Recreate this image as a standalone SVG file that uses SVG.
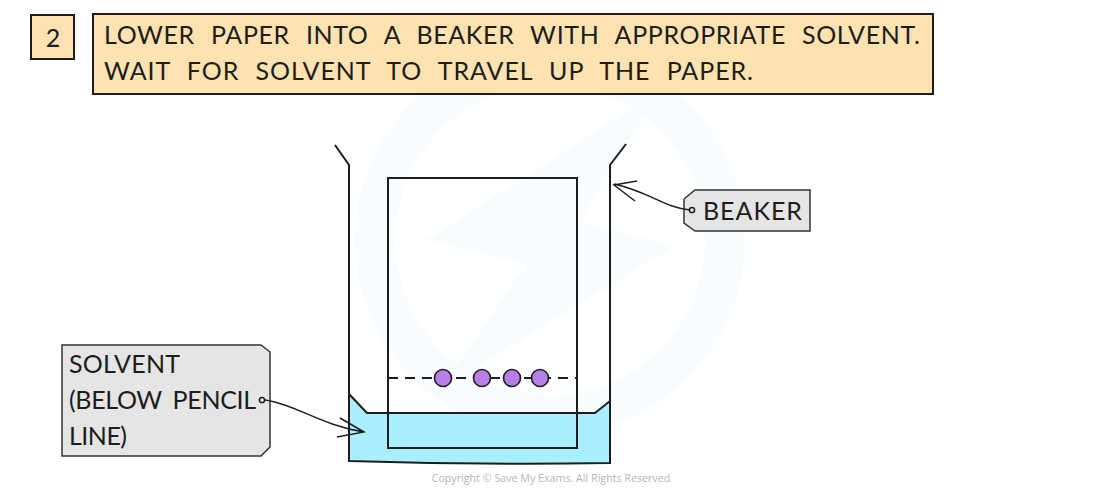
<svg xmlns="http://www.w3.org/2000/svg" width="1100" height="490" viewBox="0 0 1100 490">
<style>
.t{font-family:"Lato","Liberation Sans",sans-serif;font-size:25px;fill:#1d1d1b}
.b{stroke:#1d1d1b;stroke-width:2;fill:none;stroke-linejoin:miter}
.h{stroke:#1d1d1b;stroke-width:1.5;fill:none}
.tag{fill:#e5e5e5;stroke:#333;stroke-width:1.5}
.box{fill:#fee3b1;stroke:#1d1d1b;stroke-width:2}
.s{fill:#b97fe8;stroke:#1d1d1b;stroke-width:1.6}
</style>
<g id="watermark" fill="#f9fcfe" stroke="none">
<path fill-rule="evenodd" d="M550 45A195 195 0 1 0 550 435A195 195 0 1 0 550 45ZM550 85A155 155 0 1 1 550 395A155 155 0 1 1 550 85Z"/>
<path d="M426 240L660 90L580 222L675 246L440 390L525 265Z"/>
</g>
<g id="step-number"><rect class="box" x="31" y="15" width="43" height="44"/><text class="t" x="53" y="47" text-anchor="middle">2</text></g>
<g id="instruction"><rect class="box" x="93" y="14" width="840" height="80"/>
<text class="t" x="104" y="44" word-spacing="9" textLength="816">LOWER PAPER INTO A BEAKER WITH APPROPRIATE SOLVENT.</text>
<text class="t" x="104" y="80" word-spacing="9" textLength="649">WAIT FOR SOLVENT TO TRAVEL UP THE PAPER.</text></g>
<g id="beaker">
<path d="M349 394L367 413H595L610 401V463Q480 465 349 461Z" fill="#a9efff"/>
<path class="b" d="M335 145L349 165V461Q480 465 610 463V165L626 144"/>
<path class="b" d="M349 394L367 413H595L610 401"/>
</g>
<g id="paper"><rect class="b" x="388" y="178" width="189" height="270"/>
<path d="M388 378H577" class="b" stroke-dasharray="10 7"/>
<circle class="s" cx="443" cy="378" r="8.5"/><circle class="s" cx="482" cy="378" r="8.5"/><circle class="s" cx="512" cy="378" r="8.5"/><circle class="s" cx="540" cy="378" r="8.5"/></g>
<g id="beaker-label"><path class="tag" d="M695 190H810V231H695L684 223V199Z"/><text class="t" x="703" y="220" textLength="99">BEAKER</text></g>
<g id="solvent-label"><path class="tag" d="M62 345H261L270 352V447L261 456H62Z"/>
<text class="t" x="69" y="373" textLength="111">SOLVENT</text><text class="t" x="69" y="409" word-spacing="5" textLength="187">(BELOW PENCIL</text><text class="t" x="69" y="445" textLength="58">LINE)</text></g>
<g id="connectors">
<circle class="h" cx="692" cy="210" r="2.6"/><path class="h" d="M690 210C665 208 650 192 614 184M637 181L614 185L635 201"/>
<circle class="h" cx="262" cy="400" r="2.6"/><path class="h" d="M265 400C295 404 320 425 364 432M340 418L364 432L337 437"/>
</g>
<text id="copyright" x="551" y="482" text-anchor="middle" font-family="Open Sans,Liberation Sans,sans-serif" font-size="10.7" fill="#b5b5b5">Copyright © Save My Exams. All Rights Reserved</text>
</svg>
